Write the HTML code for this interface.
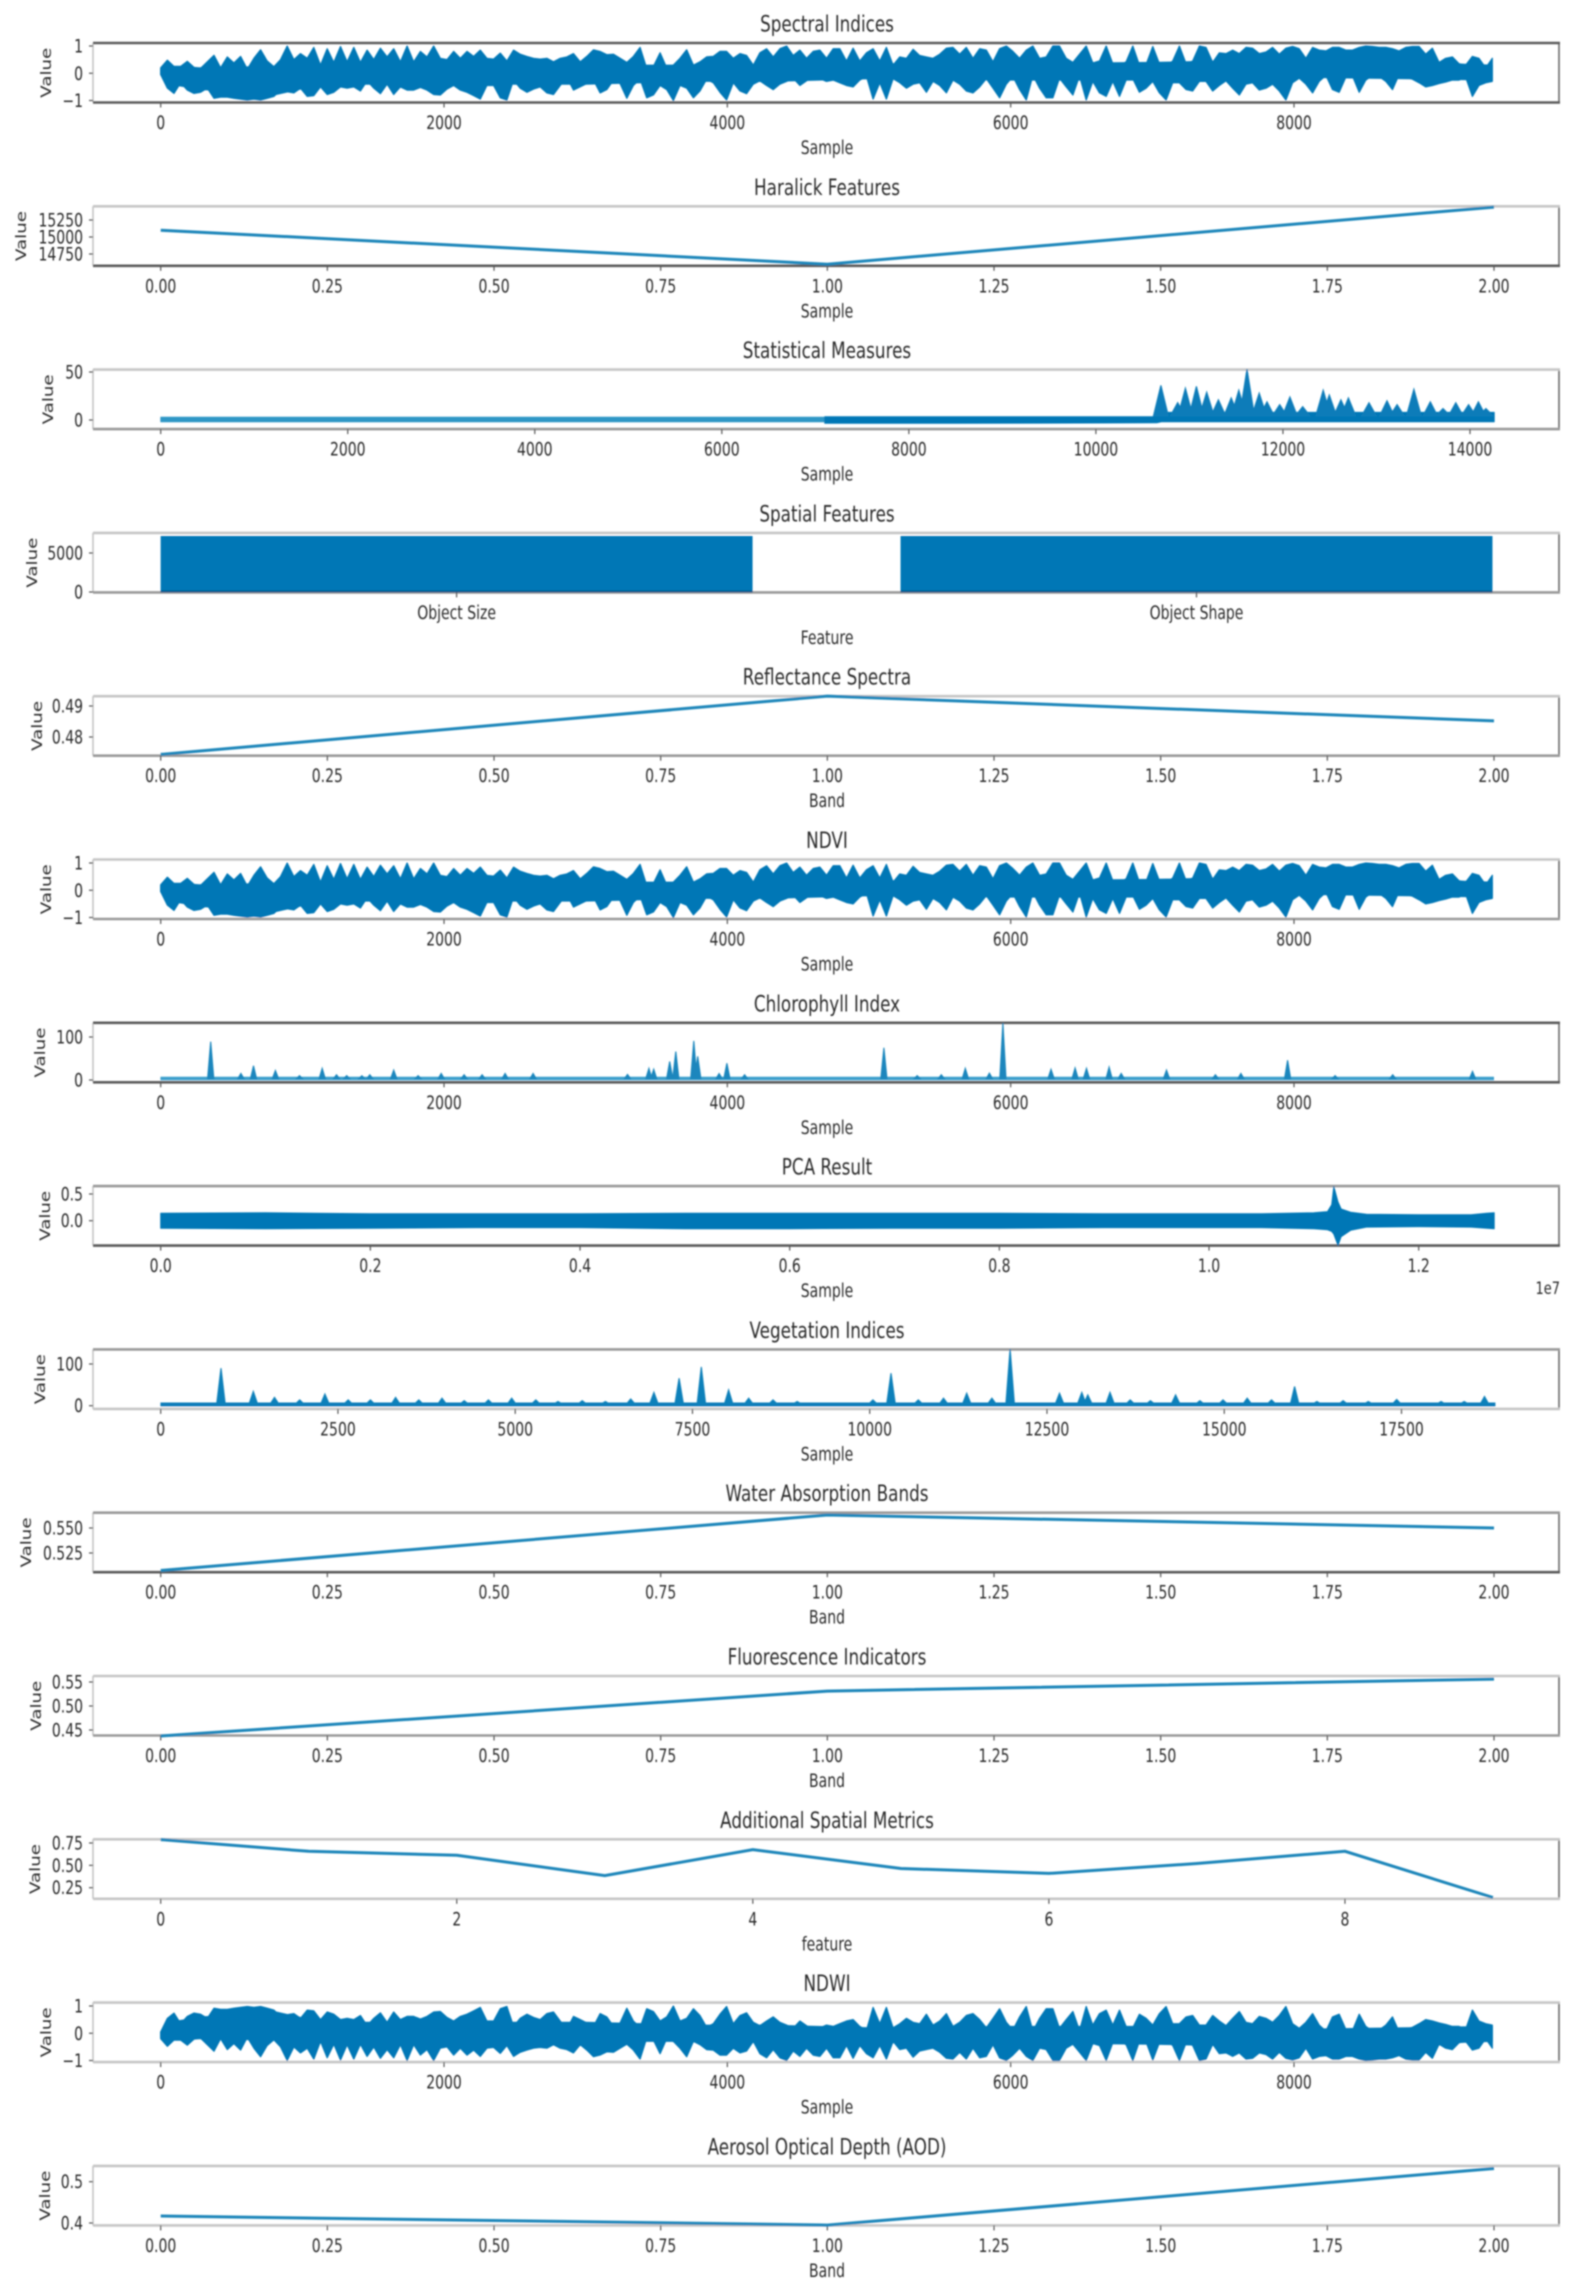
<!DOCTYPE html>
<html lang="en">
<head>
<meta charset="utf-8">
<title>Remote sensing feature panels</title>
<style>
html,body{margin:0;padding:0;background:#fff;}
svg{display:block;}
text{font-family:"DejaVu Sans","Liberation Sans",sans-serif;fill:#2a2a2a;}
</style>
</head>
<body>
<svg id="chart" xmlns="http://www.w3.org/2000/svg" width="1582" height="2295" viewBox="0 0 1582 2295">
<defs><filter id="soft" filterUnits="userSpaceOnUse" x="0" y="0" width="1582" height="2295"><feGaussianBlur stdDeviation="0.9"/></filter></defs>
<rect width="1582" height="2295" fill="#fff"/>
<g id="root" filter="url(#soft)"></g>
</svg>
<script>
// ---- Data: tick labels ----
const sampleTicks = [0,2000,4000,6000,8000];
const sampleLabels = ["0","2000","4000","6000","8000"];
const fracTicks = [0,0.25,0.5,0.75,1,1.25,1.5,1.75,2];
const fracLabels = ["0.00","0.25","0.50","0.75","1.00","1.25","1.50","1.75","2.00"];
const statTicks = [0,2000,4000,6000,8000,10000,12000,14000];
const statLabels = ["0","2000","4000","6000","8000","10000","12000","14000"];
const pcaTicks = [0,0.2,0.4,0.6,0.8,1.0,1.2];
const pcaLabels = ["0.0","0.2","0.4","0.6","0.8","1.0","1.2"];
const vegTicks = [0,2500,5000,7500,10000,12500,15000,17500];
const vegLabels = ["0","2500","5000","7500","10000","12500","15000","17500"];
const metricTicks = [0,2,4,6,8];
const metricLabels = ["0","2","4","6","8"];
const categories = ["Object Size","Object Shape"];
const unitTicks = [1,0,-1];
const unitLabels = ["1","0","\u22121"];

// ---- Data: Spectral Indices / NDVI envelope (evenly spaced along 0..9400 samples) ----
const spectralUpper = [.20,.48,.25,.25,.44,.22,.18,.42,.66,.20,.60,.38,.62,.15,.55,.86,.45,.24,.50,1.0,.50,.72,.55,.95,.30,.90,.40,.98,.42,.95,.40,.85,.50,.92,.60,.90,.42,1.0,.42,.80,.60,1.0,.55,.50,.80,.55,.80,.62,.85,.55,.52,.74,.45,.85,.70,.62,.55,.52,.55,.42,.55,.60,.72,.42,.62,.86,.80,.68,
.70,.55,.40,.62,.95,.18,.25,.75,.20,.30,.55,.86,.30,.42,.60,.62,.80,.80,.55,.72,.65,.30,.75,.90,.60,.90,1.0,.65,.85,.55,.80,.85,.55,.90,.90,.45,.92,.45,.75,.90,.45,.95,.30,.60,.55,.88,.65,.60,.55,.70,.92,.95,.70,.95,.55,.90,.85,.42,.90,1.0,.80,.55,.85,1.0,.55,.60,1.0,
1.0,.55,.40,.70,1.0,.38,.45,1.0,.35,.28,.42,1.0,.30,.32,.98,.35,.25,.45,1.0,.35,.45,1.0,.95,.40,.75,.72,.85,.72,.95,.92,.72,.78,.95,.70,.92,.98,.90,.55,.95,.85,.82,.95,.95,.85,.85,.95,1.0,.98,.95,.95,.90,.82,.95,.98,.98,.70,.92,.40,.55,.60,.35,.30,.62,.55,.20,.55];
const spectralLower = [-.05,-.55,-.74,-.35,-.62,-.74,-.70,-.55,-.92,-.88,-.88,-.92,-.95,-.98,-.95,-.98,-.92,-.85,-.62,-.68,-.72,-.55,-.85,-.82,-.50,-.78,-.70,-.50,-.55,-.50,-.65,-.28,-.55,-.75,-.40,-.78,-.50,-.62,-.62,-.52,-.62,-.78,-.80,-.58,-.45,-.62,-.70,-.82,-.95,-.45,-.45,-.90,-.98,-.25,-.55,-.70,-.58,-.50,-.72,-.78,-.45,-.15,-.62,-.50,-.38,-.25,-.72,-.60,
-.25,-.38,-.92,-.45,-.22,-.90,-.80,-.45,-.60,-1.0,-.45,-.55,-.90,-.65,-.22,-.35,-.70,-.98,-.35,-.65,-.75,-.40,-.28,-.45,-.60,-.40,-.30,-.18,-.45,-.28,-.08,-.20,-.30,-.25,-.35,-.45,-.50,-.25,-.12,-.95,-.35,-.95,-.20,-.35,-.55,-.40,-.35,-.70,-.30,-.45,-.72,-.25,-.40,-.65,-.72,-.50,-.20,-.55,-.90,-.40,-.12,-.60,-.98,-.08,-.55,-.90,-.90,
-.18,-.50,-.80,-.10,-.98,-.30,-.72,-.85,-.30,-.85,-.25,-.20,-.70,-.55,-.30,-.72,-.98,-.35,-.35,-.60,-.65,-.30,-.30,-.65,-.45,-.28,-.55,-.80,-.40,-.35,-.62,-.55,-.40,-.65,-.98,-.35,-.18,-.40,-.72,-.30,-.08,-.60,-.70,-.15,-.10,-.70,-.25,-.08,-.12,-.30,-.60,-.05,-.15,-.22,-.35,-.50,-.45,-.38,-.32,-.25,-.25,-.15,-.85,-.45,-.35,-.30];
const spectralCoreX = [0,60,300,800,1100,1300,2000,3000,3800,4300,5000,6000,7000,8000,8800,9400];
const spectralCoreUpper = [.15,.2,.2,.25,.3,.3,.3,.3,.3,.3,.35,.35,.4,.5,.4,.3];
const spectralCoreLower = [-.05,-.4,-.6,-.8,-.45,-.4,-.4,-.4,-.3,-.3,-.2,-.25,-.25,-.15,-.2,-.25];

// ---- Data: NDVI envelope (the reference panel repeats the Spectral Indices trace) ----
const ndviUpper = spectralUpper;
const ndviLower = spectralLower;

// ---- Data: NDWI envelope ----
const ndwiUpper = [.05,.55,.74,.35,.62,.74,.70,.55,.92,.88,.88,.92,.95,.98,.95,.98,.92,.85,.62,.68,.72,.55,.85,.82,.50,.78,.70,.50,.55,.50,.65,.28,.55,.75,.40,.78,.50,.62,.62,.52,.62,.78,.80,.58,.45,.62,.70,.82,.95,.45,.45,.90,.98,.25,.55,.70,.58,.50,.72,.78,.45,.15,.62,.50,.38,.25,.72,.60,
.25,.38,.92,.45,.22,.90,.80,.45,.60,1.0,.45,.55,.90,.65,.22,.35,.70,.98,.35,.65,.75,.40,.28,.45,.60,.40,.30,.18,.45,.28,.08,.20,.30,.25,.35,.45,.50,.25,.12,.95,.35,.95,.20,.35,.55,.40,.35,.70,.30,.45,.72,.25,.40,.65,.72,.50,.20,.55,.90,.40,.12,.60,.98,.08,.55,.90,.90,
.18,.50,.80,.10,.98,.30,.72,.85,.30,.85,.25,.20,.70,.55,.30,.72,.98,.35,.35,.60,.65,.30,.30,.65,.45,.28,.55,.80,.40,.35,.62,.55,.40,.65,.98,.35,.18,.40,.72,.30,.08,.60,.70,.15,.10,.70,.25,.08,.12,.30,.60,.05,.15,.22,.35,.50,.45,.38,.32,.25,.25,.15,.85,.45,.35,.30];
const ndwiLower = [-.20,-.48,-.25,-.25,-.44,-.22,-.18,-.42,-.66,-.20,-.60,-.38,-.62,-.15,-.55,-.86,-.45,-.24,-.50,-1.0,-.50,-.72,-.55,-.95,-.30,-.90,-.40,-.98,-.42,-.95,-.40,-.85,-.50,-.92,-.60,-.90,-.42,-1.0,-.42,-.80,-.60,-1.0,-.55,-.50,-.80,-.55,-.80,-.62,-.85,-.55,-.52,-.74,-.45,-.85,-.70,-.62,-.55,-.52,-.55,-.42,-.55,-.60,-.72,-.42,-.62,-.86,-.80,-.68,
-.70,-.55,-.40,-.62,-.95,-.18,-.25,-.75,-.20,-.30,-.55,-.86,-.30,-.42,-.60,-.62,-.80,-.80,-.55,-.72,-.65,-.30,-.75,-.90,-.60,-.90,-1.0,-.65,-.85,-.55,-.80,-.85,-.55,-.90,-.90,-.45,-.92,-.45,-.75,-.90,-.45,-.95,-.30,-.60,-.55,-.88,-.65,-.60,-.55,-.70,-.92,-.95,-.70,-.95,-.55,-.90,-.85,-.42,-.90,-1.0,-.80,-.55,-.85,-1.0,-.55,-.60,-1.0,
-1.0,-.55,-.40,-.70,-1.0,-.38,-.45,-1.0,-.35,-.28,-.42,-1.0,-.30,-.32,-.98,-.35,-.25,-.45,-1.0,-.35,-.45,-1.0,-.95,-.40,-.75,-.72,-.85,-.72,-.95,-.92,-.72,-.78,-.95,-.70,-.92,-.98,-.90,-.55,-.95,-.85,-.82,-.95,-.95,-.85,-.85,-.95,-1.0,-.98,-.95,-.95,-.90,-.82,-.95,-.98,-.98,-.70,-.92,-.40,-.55,-.60,-.35,-.30,-.62,-.55,-.20,-.55];
const ndwiCoreX = [0,60,300,800,1100,1300,2000,3000,3800,4300,5000,6000,7000,8000,8800,9400];
const ndwiCoreUpper = [.05,.4,.6,.8,.45,.4,.4,.4,.3,.3,.2,.25,.25,.15,.2,.25];
const ndwiCoreLower = [-.15,-.2,-.2,-.25,-.3,-.3,-.3,-.3,-.3,-.3,-.35,-.35,-.4,-.5,-.4,-.3];

const bandEnd = 9400;

// ---- Data: simple line panels ----
const threePointX = [0,1,2];
const haralickValues = [15100,14600,15440];
const reflectanceValues = [0.4744,0.4932,0.4852];
const waterValues = [0.5075,0.563,0.55];
const fluorescenceValues = [0.4375,0.531,0.556];
const aodValues = [0.417,0.395,0.532];
const metricX = [0,1,2,3,4,5,6,7,8,9];
const metricValues = [0.788,0.657,0.612,0.385,0.676,0.465,0.41,0.521,0.657,0.14];

// ---- Data: Spatial Features bars ----
const barValues = [7180,7180];

// ---- Data: Statistical Measures ----
const statFlatX = [0,7100];
const statFlatUpper = [3,3];
const statFlatLower = [-2,-2];
const statBandX = [7100,8500,10650,10700,14260];
const statBandUpper = [3.5,3.5,3.5,8,8];
const statBandLower = [-3.5,-3.5,-3,-2,-2];
const statPeakSamples = [10695,10874,10957,11075,11185,11310,11447,11528,11616,11746,11829,11965,12074,12211,12430,12495,12620,12700,12920,13112,13220,13400,13575,13711,13848,13985,14090,14170];
const statPeakValues = [36,18,33,35,29,21,23,31,53,28,19,16,24,14,31,26,21,23,18,20,16,32,19,12,18,16,19,12];

// ---- Data: Chlorophyll Index ----
const chlBaseEnd = 9410;
const chlBaseLevel = 7;
const chlPeakSamples = [353,566,655,810,980,1140,1241,1313,1420,1476,1645,1817,1980,2142,2269,2431,2629,3295,3446,3480,3593,3636,3763,3791,3942,3997,4122,5105,5340,5510,5680,5850,5945,6285,6455,6535,6695,6780,7100,7445,7625,7955,8290,8697,9260];
const chlPeakValues = [89,15,33,22,10,27,12,10,10,12,23,10,15,12,12,15,15,13,27,25,43,66,91,55,15,39,12,75,10,12,27,16,132,25,28,27,30,15,23,12,15,46,10,12,20];

// ---- Data: PCA Result (x in units of 1e7) ----
const pcaX = [0,.1,.2,.3,.4,.5,.6,.7,.8,.9,1.0,1.05,1.1,1.113,1.117,1.119,1.123,1.126,1.135,1.15,1.2,1.25,1.265,1.272];
const pcaUpper = [.14,.15,.13,.13,.13,.14,.14,.14,.14,.13,.13,.13,.15,.17,.3,.64,.35,.22,.16,.12,.11,.11,.14,.15];
const pcaLower = [-.14,-.15,-.14,-.13,-.13,-.15,-.15,-.14,-.14,-.13,-.13,-.13,-.15,-.17,-.2,-.25,-.46,-.3,-.18,-.12,-.11,-.12,-.14,-.15];

// ---- Data: Vegetation Indices ----
const vegBaseEnd = 18820;
const vegBaseLevel = 7;
const vegPeakSamples = [850,1306,1605,1960,2316,2644,2957,3313,3640,3968,4280,4622,4950,5290,5604,5945,6272,6629,6956,7312,7625,8010,8293,8636,8977,10045,10300,10685,11041,11368,11723,11980,12677,12991,13076,13389,13674,13959,14314,14656,14983,15324,15666,15993,16307,16677,17032,17432,18058,18385,18670];
const vegPeakValues = [90,34,20,14,28,14,14,20,14,18,12,14,18,14,10,12,10,16,32,66,93,38,18,14,10,14,78,14,18,30,18,136,30,32,26,32,14,12,26,12,14,18,14,46,10,12,10,15,10,10,22];

// ---- Rendering ----
const NS = "http://www.w3.org/2000/svg";
const root = document.getElementById("root");
const BLUE = "#0077b6";
const LINE = "#1f86ba";
const LEFT = 93, RIGHT = 1560, PERIOD = 163.3, HEIGHT = 59.5, TOP0 = 43;
const TEXT_STRETCH = 1.3;

function mk(tag, name, parent, attrs) {
  const el = document.createElementNS(NS, tag);
  
  
  for (const k in attrs) el.setAttribute(k, attrs[k]);
  (parent || root).appendChild(el);
  return el;
}
function linear(d0, d1, r0, r1) {
  return function (v) { return r0 + (v - d0) * (r1 - r0) / (d1 - d0); };
}
function txt(parent, name, str, x, y, anchor, size, sx, sy, rot) {
  const t = rot ? "translate(" + x + "," + y + ") rotate(-90) scale(" + sx + "," + sy + ")"
                : "translate(" + x + "," + y + ") scale(" + sx + "," + sy + ")";
  const el = mk("text", name, parent, {transform: t, "text-anchor": anchor, "font-size": size});
  el.textContent = str;
  return el;
}
function panel(i, o) {
  const top = TOP0 + PERIOD * i, bottom = top + HEIGHT;
  const g = mk("g", o.key + "-panel", root, {});
  mk("line", o.key + "-left-spine", g, {x1: LEFT, x2: LEFT, y1: top, y2: bottom, stroke: "#c4c4c4", "stroke-width": 1.6});
  mk("line", o.key + "-right-spine", g, {x1: RIGHT - 1, x2: RIGHT - 1, y1: top, y2: bottom, stroke: "#6a6a6a", "stroke-width": 1.6});
  mk("line", o.key + "-top-spine", g, {x1: LEFT, x2: RIGHT, y1: top, y2: top, stroke: o.frame[0], "stroke-width": 2.6});
  mk("line", o.key + "-bottom-spine", g, {x1: LEFT, x2: RIGHT, y1: bottom, y2: bottom, stroke: o.frame[1], "stroke-width": 2.6});
  txt(g, o.key + "-title", o.title, 827, top - 11.5, "middle", 16.8, 1, TEXT_STRETCH);
  txt(g, o.key + "-x-axis-title", o.xlabel, 827, bottom + 51.5, "middle", 14, 1, TEXT_STRETCH);
  txt(g, o.key + "-y-axis-title", "Value", o.ylabelX + 5, top + HEIGHT / 2, "middle", 14, TEXT_STRETCH, 1, true);
  o.xTicks.forEach(function (v, j) {
    const x = o.x(v);
    mk("line", o.key + "-x-tick", g, {x1: x, x2: x, y1: bottom, y2: bottom + 5, stroke: "#555", "stroke-width": 1.2});
    txt(g, o.key + "-x-tick-label", o.xLabels[j], x, bottom + 26.5, "middle", 14, 1, TEXT_STRETCH);
  });
  o.yTicks.forEach(function (v, j) {
    const y = o.y(v);
    mk("line", o.key + "-y-tick", g, {x1: LEFT - 4, x2: LEFT, y1: y, y2: y, stroke: "#555", "stroke-width": 1.2});
    txt(g, o.key + "-y-tick-label", o.yLabels[j], 83, y + 6.5, "end", 14, 1, TEXT_STRETCH);
  });
  return g;
}
function evenBand(g, name, upper, lower, end, x, y, color) {
  let d = "";
  upper.forEach(function (v, i) {
    d += (i ? "L" : "M") + x(i * end / (upper.length - 1)).toFixed(1) + " " + y(v).toFixed(1);
  });
  for (let i = lower.length - 1; i >= 0; i--) {
    d += "L" + x(i * end / (lower.length - 1)).toFixed(1) + " " + y(lower[i]).toFixed(1);
  }
  mk("path", name, g, {d: d + "Z", fill: color, stroke: color, "stroke-width": 1.2, "stroke-linejoin": "round"});
}
function band(g, name, xs, upper, lower, x, y, color, sw) {
  let d = "";
  xs.forEach(function (v, i) {
    d += (i ? "L" : "M") + x(v).toFixed(1) + " " + y(upper[i]).toFixed(1);
  });
  for (let i = xs.length - 1; i >= 0; i--) {
    d += "L" + x(xs[i]).toFixed(1) + " " + y(lower[i]).toFixed(1);
  }
  mk("path", name, g, {d: d + "Z", fill: color, stroke: color, "stroke-width": sw, "stroke-linejoin": "round"});
}
function spikes(g, name, samples, values, base, half, x, y, color) {
  let d = "";
  samples.forEach(function (s, i) {
    d += "M" + x(s - half).toFixed(1) + " " + y(base).toFixed(1) +
         "L" + x(s).toFixed(1) + " " + y(values[i]).toFixed(1) +
         "L" + x(s + half).toFixed(1) + " " + y(base).toFixed(1) + "Z";
  });
  mk("path", name, g, {d: d, fill: color, stroke: color, "stroke-width": 1.1, "stroke-linejoin": "miter"});
}
function line(g, name, xs, ys, x, y) {
  const pts = xs.map(function (v, i) { return x(v).toFixed(1) + "," + y(ys[i]).toFixed(1); }).join(" ");
  mk("polyline", name, g, {points: pts, fill: "none", stroke: LINE, "stroke-width": 3, "stroke-linejoin": "miter"});
}

const DARK = "#5c5c5c", MID = "#9a9a9a", LIGHT = "#c6c6c6";
const xSample = linear(0, 8000, 160.7, 1294);
const xFrac = linear(0, 2, 160.7, 1494);

// 1 Spectral Indices
(function () {
  const y = linear(-1, 1, 100.5, 46);
  const g = panel(0, {key: "spectral-indices", title: "Spectral Indices", xlabel: "Sample", ylabelX: 46, frame: [DARK, DARK],
    x: xSample, xTicks: sampleTicks, xLabels: sampleLabels, y: y, yTicks: unitTicks, yLabels: unitLabels});
  band(g, "spectral-indices-core", spectralCoreX, spectralCoreUpper, spectralCoreLower, xSample, y, BLUE, 1);
  evenBand(g, "spectral-indices-series", spectralUpper, spectralLower, bandEnd, xSample, y, BLUE);
})();
// 2 Haralick
(function () {
  const y = linear(14750, 15250, 254, 220);
  const g = panel(1, {key: "haralick-features", title: "Haralick Features", xlabel: "Sample", ylabelX: 21, frame: [LIGHT, DARK],
    x: xFrac, xTicks: fracTicks, xLabels: fracLabels, y: y, yTicks: [15250,15000,14750], yLabels: ["15250","15000","14750"]});
  line(g, "haralick-features-line", threePointX, haralickValues, xFrac, y);
})();
// 3 Statistical
(function () {
  const x = linear(0, 14000, 160.7, 1470);
  const y = linear(0, 50, 420, 372);
  const g = panel(2, {key: "statistical-measures", title: "Statistical Measures", xlabel: "Sample", ylabelX: 48, frame: [LIGHT, MID],
    x: x, xTicks: statTicks, xLabels: statLabels, y: y, yTicks: [50,0], yLabels: ["50","0"]});
  band(g, "statistical-flat-band", statFlatX, statFlatUpper, statFlatLower, x, y, "#2f96c6", 0.8);
  band(g, "statistical-noisy-band", statBandX, statBandUpper, statBandLower, x, y, BLUE, 0.8);
  spikes(g, "statistical-peaks", statPeakSamples, statPeakValues, 4, 80, x, y, "#0a7cb9");
})();
// 4 Spatial features
(function () {
  const x = linear(0, 1, 456.6, 1196.5);
  const y = linear(0, 5000, 592, 553);
  const g = panel(3, {key: "spatial-features", title: "Spatial Features", xlabel: "Feature", ylabelX: 32, frame: [LIGHT, MID],
    x: x, xTicks: [0,1], xLabels: categories, y: y, yTicks: [5000,0], yLabels: ["5000","0"]});
  barValues.forEach(function (v, i) {
    const x0 = x(i - 0.4), x1 = x(i + 0.4);
    mk("rect", "spatial-bar-" + (i ? "object-shape" : "object-size"), g, {x: x0, y: y(v), width: x1 - x0, height: y(0) - y(v), fill: BLUE});
    mk("rect", "spatial-bar-base", g, {x: x0, y: y(0) - 1.5, width: x1 - x0, height: 2, fill: "#005a8c"});
  });
})();
// 5 Reflectance
(function () {
  const y = linear(0.48, 0.49, 737, 706);
  const g = panel(4, {key: "reflectance-spectra", title: "Reflectance Spectra", xlabel: "Band", ylabelX: 37, frame: [LIGHT, MID],
    x: xFrac, xTicks: fracTicks, xLabels: fracLabels, y: y, yTicks: [0.49,0.48], yLabels: ["0.49","0.48"]});
  line(g, "reflectance-spectra-line", threePointX, reflectanceValues, xFrac, y);
})();
// 6 NDVI
(function () {
  const y = linear(-1, 1, 917.5, 863);
  const g = panel(5, {key: "ndvi", title: "NDVI", xlabel: "Sample", ylabelX: 46, frame: [LIGHT, MID],
    x: xSample, xTicks: sampleTicks, xLabels: sampleLabels, y: y, yTicks: unitTicks, yLabels: unitLabels});
  band(g, "ndvi-core", spectralCoreX, spectralCoreUpper, spectralCoreLower, xSample, y, BLUE, 1);
  evenBand(g, "ndvi-series", ndviUpper, ndviLower, bandEnd, xSample, y, BLUE);
})();
// 7 Chlorophyll
(function () {
  const y = linear(0, 100, 1080, 1037);
  const g = panel(6, {key: "chlorophyll-index", title: "Chlorophyll Index", xlabel: "Sample", ylabelX: 40, frame: [DARK, DARK],
    x: xSample, xTicks: sampleTicks, xLabels: sampleLabels, y: y, yTicks: [100,0], yLabels: ["100","0"]});
  band(g, "chlorophyll-base-band", [0, chlBaseEnd], [chlBaseLevel, chlBaseLevel], [0, 0], xSample, y, "#3a9fcc", 0.6);
  spikes(g, "chlorophyll-peaks", chlPeakSamples, chlPeakValues, 3, 22, xSample, y, "#1a86bd");
})();
// 8 PCA
(function () {
  const x = linear(0, 1.2, 160.7, 1418.7);
  const y = linear(0, 0.5, 1220.7, 1194);
  const g = panel(7, {key: "pca-result", title: "PCA Result", xlabel: "Sample", ylabelX: 45, frame: [MID, DARK],
    x: x, xTicks: pcaTicks, xLabels: pcaLabels, y: y, yTicks: [0.5,0], yLabels: ["0.5","0.0"]});
  band(g, "pca-result-series", pcaX, pcaUpper, pcaLower, x, y, BLUE, 1);
  txt(g, "pca-offset-label", "1e7", 1560, 1294, "end", 13, 1, TEXT_STRETCH);
})();
// 9 Vegetation
(function () {
  const x = linear(0, 17500, 160.7, 1401.5);
  const y = linear(0, 100, 1405.7, 1364);
  const g = panel(8, {key: "vegetation-indices", title: "Vegetation Indices", xlabel: "Sample", ylabelX: 40, frame: [MID, LIGHT],
    x: x, xTicks: vegTicks, xLabels: vegLabels, y: y, yTicks: [100,0], yLabels: ["100","0"]});
  band(g, "vegetation-base-band", [0, vegBaseEnd], [vegBaseLevel, vegBaseLevel], [-1, -1], x, y, "#0a7cb9", 0.6);
  spikes(g, "vegetation-peaks", vegPeakSamples, vegPeakValues, 4, 60, x, y, "#0f80ba");
})();
// 10 Water
(function () {
  const y = linear(0.525, 0.55, 1553, 1528);
  const g = panel(9, {key: "water-absorption-bands", title: "Water Absorption Bands", xlabel: "Band", ylabelX: 26, frame: [MID, DARK],
    x: xFrac, xTicks: fracTicks, xLabels: fracLabels, y: y, yTicks: [0.55,0.525], yLabels: ["0.550","0.525"]});
  line(g, "water-absorption-line", threePointX, waterValues, xFrac, y);
})();
// 11 Fluorescence
(function () {
  const y = linear(0.45, 0.55, 1730, 1682);
  const g = panel(10, {key: "fluorescence-indicators", title: "Fluorescence Indicators", xlabel: "Band", ylabelX: 36, frame: [LIGHT, MID],
    x: xFrac, xTicks: fracTicks, xLabels: fracLabels, y: y, yTicks: [0.55,0.5,0.45], yLabels: ["0.55","0.50","0.45"]});
  line(g, "fluorescence-line", threePointX, fluorescenceValues, xFrac, y);
})();
// 12 Additional
(function () {
  const x = linear(0, 9, 160.7, 1493);
  const y = linear(0.25, 0.75, 1887.7, 1843);
  const g = panel(11, {key: "additional-spatial-metrics", title: "Additional Spatial Metrics", xlabel: "feature", ylabelX: 35, frame: [LIGHT, LIGHT],
    x: x, xTicks: metricTicks, xLabels: metricLabels, y: y, yTicks: [0.75,0.5,0.25], yLabels: ["0.75","0.50","0.25"]});
  line(g, "additional-metrics-line", metricX, metricValues, x, y);
})();
// 13 NDWI
(function () {
  const y = linear(-1, 1, 2060.5, 2006);
  const g = panel(12, {key: "ndwi", title: "NDWI", xlabel: "Sample", ylabelX: 46, frame: [LIGHT, LIGHT],
    x: xSample, xTicks: sampleTicks, xLabels: sampleLabels, y: y, yTicks: unitTicks, yLabels: unitLabels});
  band(g, "ndwi-core", ndwiCoreX, ndwiCoreUpper, ndwiCoreLower, xSample, y, BLUE, 1);
  evenBand(g, "ndwi-series", ndwiUpper, ndwiLower, bandEnd, xSample, y, BLUE);
})();
// 14 AOD
(function () {
  const y = linear(0.4, 0.5, 2223, 2181.7);
  const g = panel(13, {key: "aerosol-optical-depth", title: "Aerosol Optical Depth (AOD)", xlabel: "Band", ylabelX: 45, frame: [LIGHT, LIGHT],
    x: xFrac, xTicks: fracTicks, xLabels: fracLabels, y: y, yTicks: [0.5,0.4], yLabels: ["0.5","0.4"]});
  line(g, "aod-line", threePointX, aodValues, xFrac, y);
})();
</script>
</body>
</html>
